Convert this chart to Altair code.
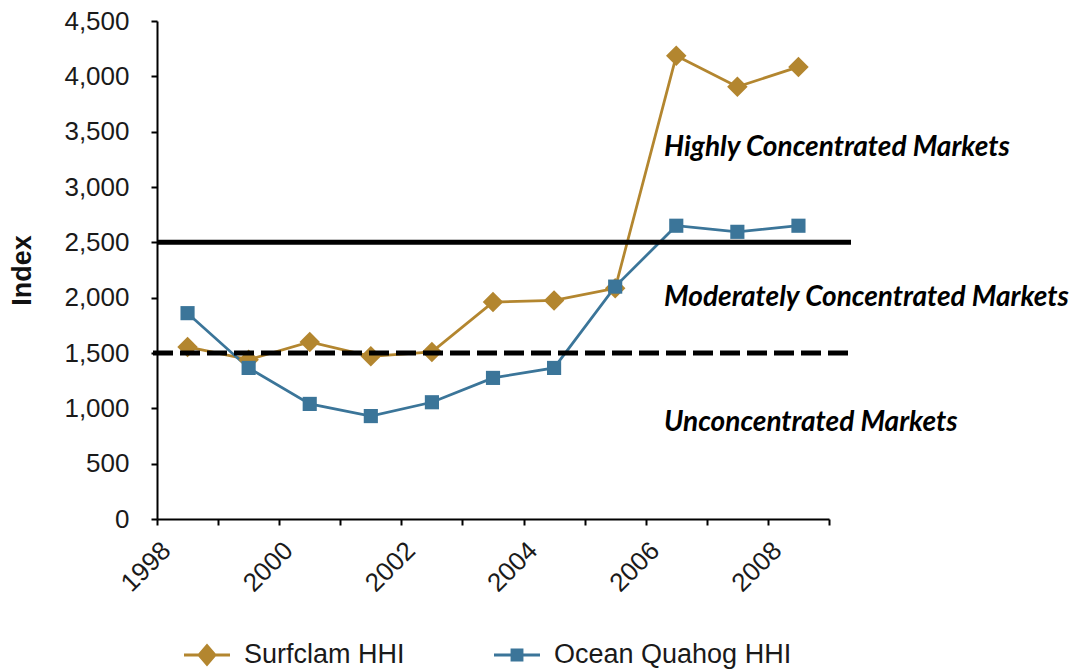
import altair as alt
import pandas as pd

# Herfindahl-Hirschman Index by year for the two clam fisheries
years = [1998, 1999, 2000, 2001, 2002, 2003, 2004, 2005, 2006, 2007, 2008]
surfclam_hhi = [1555, 1440, 1600, 1470, 1510, 1960, 1975, 2085, 4185, 3905, 4085]
quahog_hhi = [1860, 1365, 1040, 930, 1055, 1275, 1365, 2100, 2650, 2595, 2650]

series_names = ["Surfclam HHI", "Ocean Quahog HHI"]
series_colors = ["#B3862F", "#3B7599"]

# market concentration thresholds
threshold_values = [2500, 1500]
threshold_kinds = ["high", "moderate"]

zone_labels = ["Highly Concentrated Markets", "Moderately Concentrated Markets", "Unconcentrated Markets"]
zone_label_y = [3350, 2000, 870]
zone_label_x = [2006.3, 2006.3, 2006.3]

y_ticks = [0, 500, 1000, 1500, 2000, 2500, 3000, 3500, 4000, 4500]
x_ticks = [1998, 1999, 2000, 2001, 2002, 2003, 2004, 2005, 2006, 2007, 2008, 2009]

df = pd.DataFrame({
    "year": years * 2,
    "hhi": surfclam_hhi + quahog_hhi,
    "series": [series_names[0]] * len(years) + [series_names[1]] * len(years),
})
thr = pd.DataFrame({"value": threshold_values, "kind": threshold_kinds})
zones = pd.DataFrame({"label": zone_labels, "y": zone_label_y, "x": zone_label_x})

W, H = 672, 498
AXIS_FONT = "Liberation Sans"

x_scale = alt.Scale(domain=[1998, 2009], nice=False, zero=False)
y_scale = alt.Scale(domain=[0, 4500], nice=False)

x_axis = alt.Axis(
    values=x_ticks, format="d",
    labelExpr="datum.value % 2 === 0 ? datum.label : ''",
    labelAngle=-45, labelAlign="right", labelBaseline="top",
    labelFontSize=26, labelFont=AXIS_FONT, labelColor="#1a1a1a",
    labelPadding=12, labelOverlap=False, labelBound=False, labelFlush=False,
    tickSize=6, grid=False, title=None,
)
y_axis = alt.Axis(
    values=y_ticks, format=",d",
    labelFontSize=26, labelFont=AXIS_FONT, labelColor="#1a1a1a",
    labelPadding=22, tickSize=6, grid=False,
    title="Index", titleFont=AXIS_FONT, titleFontSize=27, titleFontWeight="bold",
    titleColor="#111111", titleX=-135, titleY=249, titleAngle=270,
    titleAlign="center", titleBaseline="middle",
)

# legend keys: a short line with the series marker on it
diamond_key = "M-1,-0.065H1V0.065H-1Z M-0.43,0L0,-0.5L0.43,0L0,0.5Z"
square_key = "M-1,-0.065H1V0.065H-1Z M-0.28,-0.28H0.28V0.28H-0.28Z"
legend = alt.Legend(
    title=None, orient="none", direction="horizontal",
    legendX=27, legendY=611, padding=0,
    symbolSize=2116, labelOffset=14, columnPadding=89, labelLimit=400,
    symbolOpacity=1, symbolStrokeWidth=0, symbolType="circle",
    labelFontSize=27, labelFont=AXIS_FONT, labelColor="#1a1a1a",
)
color_scale = alt.Scale(domain=series_names, range=series_colors)
color = alt.Color("series:N", scale=color_scale, legend=legend)

base = alt.Chart(df).transform_calculate(xpos="datum.year + 0.5")
x_enc = alt.X("xpos:Q", scale=x_scale, axis=x_axis)
y_enc = alt.Y("hhi:Q", scale=y_scale, axis=y_axis)

# layer that only feeds the legend (no rows survive the filter)
legend_keys = base.transform_filter("false").mark_point(filled=True).encode(
    x=x_enc, y=y_enc, color=color,
    shape=alt.Shape("series:N", scale=alt.Scale(domain=series_names, range=[diamond_key, square_key]), legend=legend),
)

lines = base.mark_line(strokeWidth=2.75).encode(x=x_enc, y=y_enc, color=color)

surf_pts = base.transform_filter(alt.datum.series == series_names[0]).mark_point(
    shape="diamond", size=420, filled=True, opacity=1
).encode(x=x_enc, y=y_enc, color=color)
quahog_pts = base.transform_filter(alt.datum.series == series_names[1]).mark_point(
    shape="square", size=200, filled=True, opacity=1
).encode(x=x_enc, y=y_enc, color=color)

rule_y = alt.Y("value:Q", scale=y_scale)
solid_rule = alt.Chart(thr).transform_filter(alt.datum.kind == "high").mark_rule(
    color="black", strokeWidth=5
).encode(y=rule_y, x=alt.value(0), x2=alt.value(694))
dashed_rule = alt.Chart(thr).transform_filter(alt.datum.kind == "moderate").mark_rule(
    color="black", strokeWidth=5, strokeDash=[20, 7]
).encode(y=rule_y, x=alt.value(-4), x2=alt.value(694))

zone_text = alt.Chart(zones).mark_text(
    font="Lato", fontStyle="italic", fontWeight="bold", fontSize=28,
    align="left", baseline="middle", color="black",
).encode(
    x=alt.X("x:Q", scale=x_scale),
    y=alt.Y("y:Q", scale=y_scale),
    text="label:N",
)

chart = alt.layer(
    legend_keys, lines, surf_pts, quahog_pts, solid_rule, dashed_rule, zone_text
).properties(
    width=W, height=H,
    autosize=alt.AutoSizeParams(type="none"),
    padding={"left": 157, "top": 21, "right": 247, "bottom": 150},
).configure_view(stroke=None).configure_axis(
    domainColor="black", domainWidth=2, tickColor="black", tickWidth=2,
)

chart.save("out.html", embed_options={"renderer": "svg", "actions": False})
